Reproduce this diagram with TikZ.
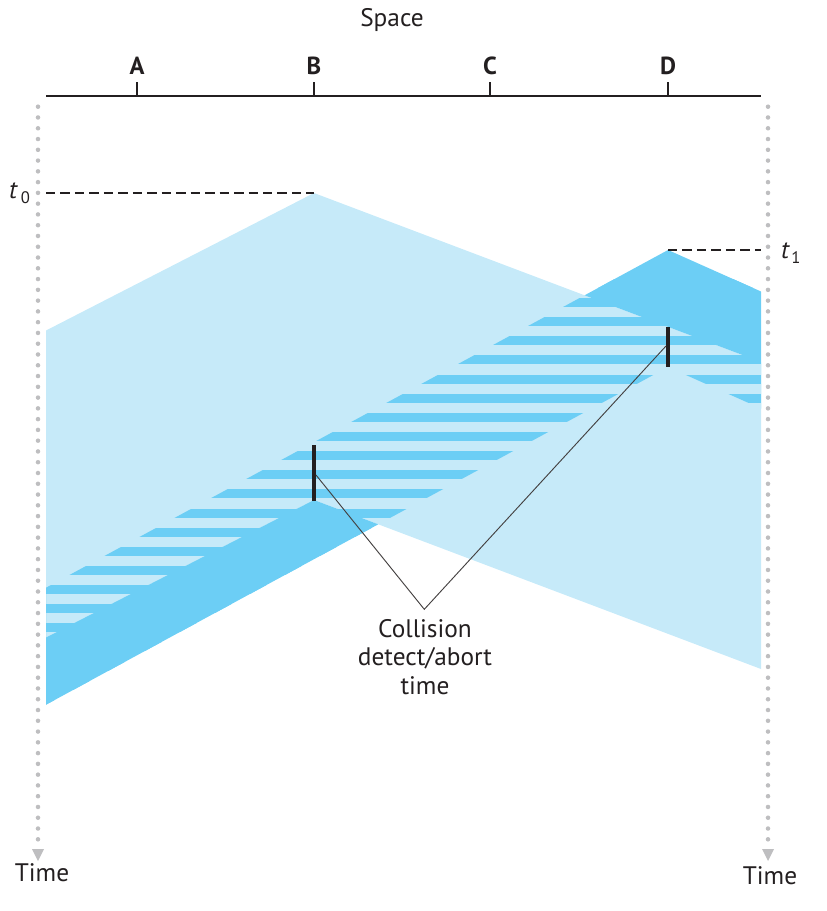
\documentclass[tikz,border=0pt]{standalone}
\usepackage{fontspec}
\setmainfont{PT Sans}
\definecolor{lightb}{RGB}{198,234,249}
\definecolor{darkb}{RGB}{108,206,245}
\definecolor{ink}{RGB}{35,31,32}
\definecolor{dotgray}{RGB}{190,190,192}
\begin{document}
\begin{tikzpicture}[x=0.75pt,y=-0.75pt,
  txt/.style={font=\fontsize{19}{21.4}\selectfont, inner sep=0pt, text=ink},
  bold/.style={font=\fontsize{18.5}{21.4}\bfseries, inner sep=0pt, text=ink},
  sub/.style={font=\fontsize{12.5}{14}\selectfont, inner sep=0pt, text=ink},
  timeline/.style={draw=dotgray, line width=3.4pt, line cap=round, dash pattern=on 0pt off 8.08pt},
  tiphead/.style={fill=dotgray},
  axisline/.style={draw=ink, line width=1.9pt},
  tickline/.style={draw=ink, line width=1.5pt},
  tmark/.style={draw=ink, line width=1.5pt, dash pattern=on 7.1pt off 3.75pt},
  cdbar/.style={draw=ink, line width=3pt},
  leader/.style={draw=ink!85, line width=0.7pt}]
\useasboundingbox (0,0) rectangle (827,911);

% B's signal region
\def\Breg{(46,330.5) -- (314,193) -- (761,362) -- (761,669) -- (314,500) -- (46,637.5) -- cycle}
\def\Dreg{(46,587.7) -- (668,250) -- (761,291.5) -- (761,408.5) -- (668,367) -- (46,704.7) -- cycle}
\fill[lightb] \Breg;
% D's signal: stripes inside B's region, solid outside
\begin{scope}
  \clip \Dreg;
  \foreach \k in {0,...,22} {
    \fill[darkb] (46,{278.97+19.13*\k}) rectangle (761,{287.97+19.13*\k});
  }
  \fill[darkb, even odd rule] (0,0) rectangle (827,911) \Breg;
\end{scope}

% axis
\draw[axisline] (46,96) -- (761,96);
\foreach \x/\n in {137/A,314/B,490/C,668/D} {
  \draw[tickline] (\x,82) -- (\x,96);
  \node[bold, anchor=base] (lab\n) at (\x,74.5) {\n};
}
\node[txt, anchor=base] (space) at (392,26) {Space};

% time lines
\draw[timeline] (38,106.7) -- (38,843);
\draw[timeline] (768,106.7) -- (768,843);
\fill[tiphead] (32,849) -- (44,849) -- (38,861) -- cycle;
\fill[tiphead] (762,849) -- (774,849) -- (768,861) -- cycle;
\node[txt, anchor=base] (timeL) at (42,881) {Time};
\node[txt, anchor=base] (timeR) at (770,884) {Time};

% t0 and t1
\draw[tmark] (46,192.5) -- (314,192.5);
\draw[tmark] (668,250) -- (761,250);
\node[txt, anchor=base] (t0) at (13,198) {\itshape t};
\node[sub, anchor=base] (t0s) at (25.5,203) {0};
\node[txt, anchor=base] (t1) at (785,258) {\itshape t};
\node[sub, anchor=base] (t1s) at (796,263) {1};

% collision detect bars
\coordinate (bTop) at (314,445);
\coordinate (bBot) at (314,501);
\coordinate (dTop) at (668,327);
\coordinate (dBot) at (668,367);
\draw[cdbar] (bTop) -- (bBot);
\draw[cdbar] (dTop) -- (dBot);
\coordinate (bMid) at (316,475);
\coordinate (dMid) at (666,346);
\coordinate (vtx) at (424.3,609.3);
\draw[leader] (bMid) -- (vtx) -- (dMid);
\node[txt, align=center, anchor=north] (cd) at (425,619) {Collision\\detect/abort\\time};
\end{tikzpicture}
\end{document}
